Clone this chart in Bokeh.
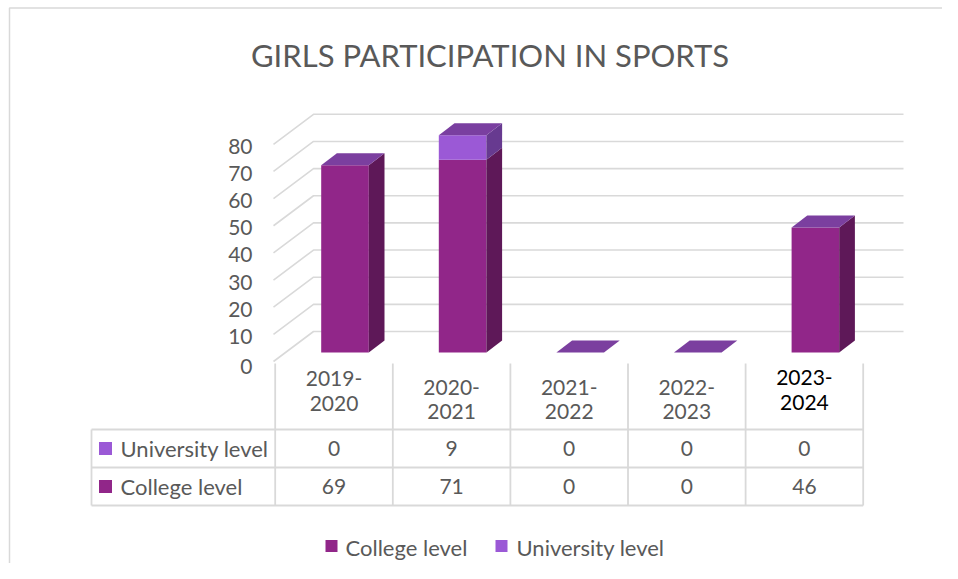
from bokeh.plotting import figure
from bokeh.models import Range1d, ColumnDataSource
from bokeh.core.properties import value
from bokeh.embed import file_html
from bokeh.resources import INLINE

# ---------------- data ----------------
title_text = "GIRLS PARTICIPATION IN SPORTS"
seasons = ["2019-2020", "2020-2021", "2021-2022", "2022-2023", "2023-2024"]
college = [69, 71, 0, 0, 46]
university = [0, 9, 0, 0, 0]
y_ticks = [0, 10, 20, 30, 40, 50, 60, 70, 80]
series_names = ["College level", "University level"]

# ---------------- styles ----------------
FONT = value("Lato")
TXT = "#595959"
GRID = "#D9D9D9"
COL_FRONT, COL_SIDE, COL_TOP = "#912689", "#5E1858", "#7B3F9F"
UNI_FRONT, UNI_SIDE, UNI_TOP = "#9B59D6", "#673A90", "#7A3FA0"
NUM_SIZE, WORD_SIZE, TITLE_SIZE = "21px", "22px", "31px"

W, H = 942, 563
CAT0_PX, CAT_STEP_PX = 333.5, 117.6   # canvas x of first category, px per category
ZERO_PX, UNIT_PX = 352.0, 2.715        # canvas y of value 0, px per value unit


def dx(px):
    return (px - CAT0_PX) / CAT_STEP_PX


def dy(py):
    return (ZERO_PX - py) / UNIT_PX


def hpx(px):
    return px / CAT_STEP_PX


def vpx(px):
    return px / UNIT_PX


p = figure(width=W, height=H, x_range=Range1d(dx(0), dx(W)),
           y_range=Range1d(dy(H), dy(0)), output_backend="svg",
           toolbar_location=None, x_axis_location=None, y_axis_location=None,
           min_border=0, outline_line_color=None)
p.grid.visible = False
p.background_fill_color = "white"
p.border_fill_color = "white"

# chart border (left / top)
p.line([dx(9), dx(9), dx(W + 20)], [dy(H + 20), dy(7.5), dy(7.5)], line_color=GRID, line_width=1.5)

# ---------------- gridlines (walls) ----------------
gx, gy = [], []
for t in y_ticks:
    gx.append([dx(273), dx(313), dx(903)])
    gy.append([t - vpx(9), t + vpx(21), t + vpx(21)])
p.multi_line(gx, gy, line_color=GRID, line_width=1.6)

# y tick labels
p.text(x=[dx(252)] * len(y_ticks), y=[t - vpx(11) if t else t - vpx(14) for t in y_ticks],
       text=[str(t) for t in y_ticks], text_align="right", text_baseline="middle",
       text_font=FONT, text_font_size=NUM_SIZE, text_color=TXT)

# ---------------- 3D stacked bars ----------------
BAR_OFF, BAR_W = hpx(11), hpx(47.6)
DEP_X, DEP_Y = hpx(15.7), vpx(12)

fl, fr, fb, ft, fc = [], [], [], [], []
sxs, sys_, scs = [], [], []
txs, tys, tcs = [], [], []
for i, (c, u) in enumerate(zip(college, university)):
    left = i + BAR_OFF - BAR_W / 2
    right = i + BAR_OFF + BAR_W / 2
    segs = [(0, c, COL_FRONT, COL_SIDE, COL_TOP)]
    if u > 0:
        segs.append((c, c + u, UNI_FRONT, UNI_SIDE, UNI_TOP))
    for bot, top, cf, cs, _ in segs:
        if top > bot:
            fl.append(left); fr.append(right); fb.append(bot); ft.append(top); fc.append(cf)
            sxs.append([right, right + DEP_X, right + DEP_X, right])
            sys_.append([bot, bot + DEP_Y, top + DEP_Y, top])
            scs.append(cs)
    top = segs[-1][1]
    txs.append([left, right, right + DEP_X, left + DEP_X])
    tys.append([top, top, top + DEP_Y, top + DEP_Y])
    tcs.append(segs[-1][4])

p.quad(left=fl, right=fr, bottom=fb, top=ft, fill_color=fc, line_color=None)
p.patches(sxs, sys_, fill_color=scs, line_color=None)
p.patches(txs, tys, fill_color=tcs, line_color=None)

# ---------------- data table ----------------
n = len(seasons)
T_TOP, R1, R2, R3 = 363, 429, 467, 505
T_LEFT = 91
xe = n - 0.5
p.multi_line([[dx(T_LEFT), xe]] * 3, [[dy(R1)] * 2, [dy(R2)] * 2, [dy(R3)] * 2],
             line_color=GRID, line_width=1.8)
vx = [[dx(T_LEFT), dx(T_LEFT)]] + [[k - 0.5, k - 0.5] for k in range(n + 1)]
vy = [[dy(R1), dy(R3)]] + [[dy(T_TOP), dy(R3)]] * (n + 1)
p.multi_line(vx, vy, line_color=GRID, line_width=1.8)

# header labels (two lines each)
head_y1 = [378, 386.5, 386.5, 386.5, 377]
head_col = [TXT, TXT, TXT, TXT, "#000000"]
top_lines = [s.split("-")[0] + "-" for s in seasons]
bot_lines = [s.split("-")[1] for s in seasons]
hs = ColumnDataSource(dict(x=list(range(n)), y1=[dy(v) for v in head_y1],
                           y2=[dy(v + 24.5) for v in head_y1],
                           t1=top_lines, t2=bot_lines, c=head_col))
p.text(x="x", y="y1", text="t1", text_color="c", source=hs, text_align="center",
       text_baseline="middle", text_font=FONT, text_font_size=NUM_SIZE)
p.text(x="x", y="y2", text="t2", text_color="c", source=hs, text_align="center",
       text_baseline="middle", text_font=FONT, text_font_size=NUM_SIZE)

# values
p.text(x=list(range(n)), y=[dy(448)] * n, text=[str(v) for v in university],
       text_align="center", text_baseline="middle", text_font=FONT,
       text_font_size=NUM_SIZE, text_color=TXT)
p.text(x=list(range(n)), y=[dy(486)] * n, text=[str(v) for v in college],
       text_align="center", text_baseline="middle", text_font=FONT,
       text_font_size=NUM_SIZE, text_color=TXT)

# row labels with keys
p.scatter(x=[dx(105), dx(105)], y=[dy(448), dy(486)], marker="square", size=13,
          fill_color=[UNI_FRONT, COL_FRONT], line_color=None)
p.text(x=[dx(120), dx(120)], y=[dy(448), dy(486)], text=[series_names[1], series_names[0]],
       text_align="left", text_baseline="middle", text_font=FONT,
       text_font_size=WORD_SIZE, text_color=TXT)

# ---------------- legend ----------------
p.scatter(x=[dx(331), dx(501)], y=[dy(545.5)] * 2, marker="square", size=12,
          fill_color=[COL_FRONT, UNI_FRONT], line_color=None)
p.text(x=[dx(345), dx(516)], y=[dy(547)] * 2, text=series_names,
       text_align="left", text_baseline="middle", text_font=FONT,
       text_font_size=WORD_SIZE, text_color=TXT)

# ---------------- title ----------------
p.text(x=[dx(489.5)], y=[dy(54)], text=[title_text], text_align="center",
       text_baseline="middle", text_font=FONT, text_font_size=TITLE_SIZE, text_color=TXT)

open("out.html", "w").write(file_html(p, INLINE))
